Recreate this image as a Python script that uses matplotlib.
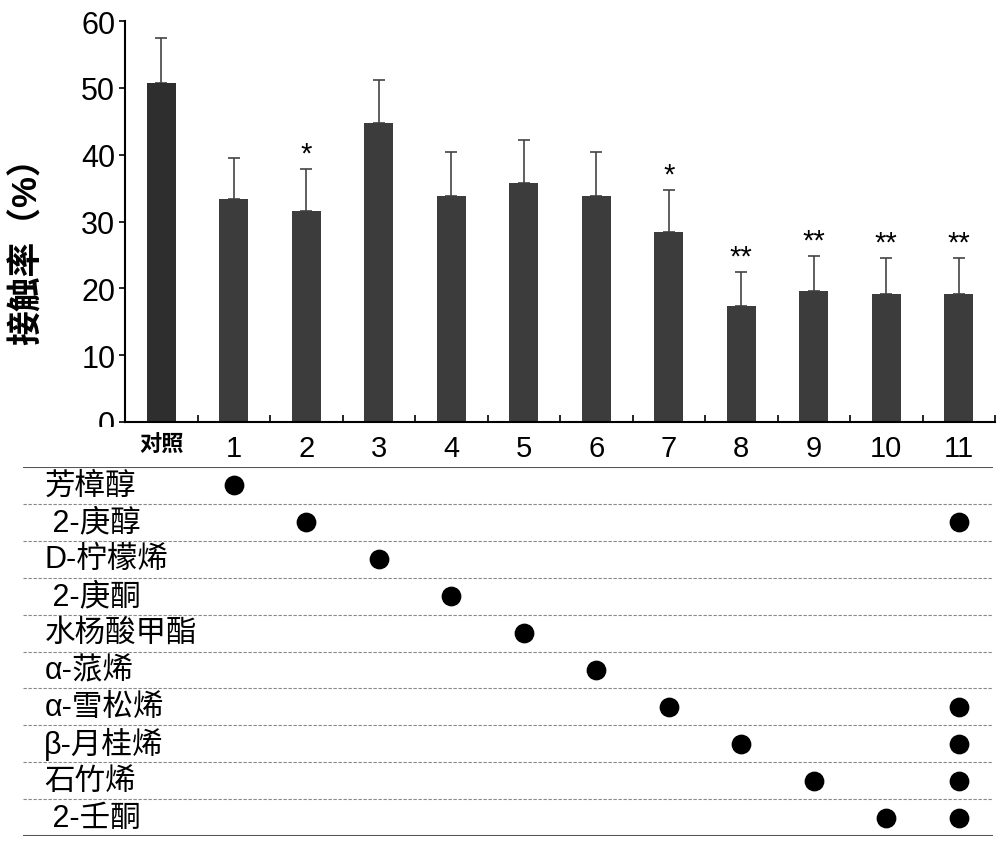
import numpy as np
import matplotlib
matplotlib.use('Agg')
import matplotlib.pyplot as plt
from matplotlib.transforms import Bbox, TransformedBbox

plt.rcParams['font.family'] = ['Liberation Sans', 'Noto Sans CJK SC']

# bar data
groups = ['对照', '1', '2', '3', '4', '5', '6', '7', '8', '9', '10', '11']
means = [50.7, 33.3, 31.5, 44.7, 33.8, 35.7, 33.8, 28.4, 17.4, 19.6, 19.2, 19.2]
sds = [6.7, 6.2, 6.4, 6.5, 6.6, 6.5, 6.6, 6.3, 5.1, 5.3, 5.3, 5.3]
sig = ['', '', '*', '', '', '', '', '*', '**', '**', '**', '**']

# compound table: which numbered groups contain each compound
compounds = ['芳樟醇', ' 2-庚醇', 'D-柠檬烯', ' 2-庚酮', '水杨酸甲酯',
             'α-蒎烯', 'α-雪松烯', 'β-月桂烯', '石竹烯', ' 2-壬酮']
compound_groups = [[1], [2, 11], [3], [4], [5], [6], [7, 11], [8, 11], [9, 11], [10, 11]]

W, H = 1000, 845
fig = plt.figure(figsize=(W / 100, H / 100), dpi=100)

# main bar axes, pixel geometry
axl, axr, axt, axb = 125, 995, 22, 423
ax = fig.add_axes([axl / W, 1 - axb / H, (axr - axl) / W, (axb - axt) / H])
x = np.arange(len(groups))
colors = ['#2e2e2e'] + ['#3c3c3c'] * (len(groups) - 1)
ax.bar(x, means, width=0.4, color=colors, zorder=2)
ax.errorbar(x, means, yerr=[np.zeros(len(sds)), sds], fmt='none',
            ecolor='#444444', elinewidth=1.2, capsize=4, capthick=1.2, zorder=1)
for xi, m, s, t in zip(x, means, sds, sig):
    if t:
        ax.text(xi, m + s + 0.2, t, ha='center', va='bottom', fontsize=21, color='black')

ax.set_xlim(-0.5, len(groups) - 0.5)
ax.set_ylim(0, 60)
ax.set_yticks(range(0, 61, 10))
ax.tick_params(axis='y', labelsize=22, direction='out', length=4, width=1.2, pad=3)
ax.set_xticks(x)
ax.set_xticklabels(groups)
ax.tick_params(axis='x', length=0, labelsize=21, pad=9)
ax.xaxis.get_ticklabels()[0].set_fontsize(16)
ax.xaxis.get_ticklabels()[0].set_fontweight('bold')
ax.set_xticks(np.arange(0.5, len(groups), 1), minor=True)
ax.tick_params(axis='x', which='minor', direction='in', length=5, width=1.2)
for side in ['top', 'right']:
    ax.spines[side].set_visible(False)
for side in ['left', 'bottom']:
    ax.spines[side].set_linewidth(1.5)
ax.set_ylabel('接触率（%）', fontsize=25, fontweight='bold')
ax.yaxis.set_label_coords(-0.093, 0.45)

# the "0" label is cut off just below the axis line in the original
zero_lbl = ax.yaxis.get_ticklabels()[0]
zero_lbl.set_clip_box(TransformedBbox(Bbox([[-0.2, -0.012], [0.0, 0.1]]), ax.transAxes))
zero_lbl.set_clip_on(True)

# compound table below
tl, tr, tt, tb = 23, 993, 468, 837
tab = fig.add_axes([tl / W, 1 - tb / H, (tr - tl) / W, (tb - tt) / H])
px_per_unit = (axr - axl) / len(groups)
tab.set_xlim(-0.5 - (axl - tl) / px_per_unit, -0.5 + (tr - axl) / px_per_unit)
nrow = len(compounds)
tab.set_ylim(0, nrow)
tab.axis('off')
tab.axhline(nrow, color='#555555', lw=1.5)
tab.axhline(0, color='#555555', lw=1.5)
for k in range(1, nrow):
    tab.axhline(k, color='#888888', lw=0.8, ls=(0, (3, 1.5)))
for i, (name, gl) in enumerate(zip(compounds, compound_groups)):
    yc = nrow - i - 0.5
    tab.text(0.022, yc, name, transform=tab.get_yaxis_transform(), ha='left', va='center',
             fontsize=22)
    tab.scatter(gl, [yc] * len(gl), s=175, color='black', zorder=3)

fig.savefig('out.png', dpi=100)
